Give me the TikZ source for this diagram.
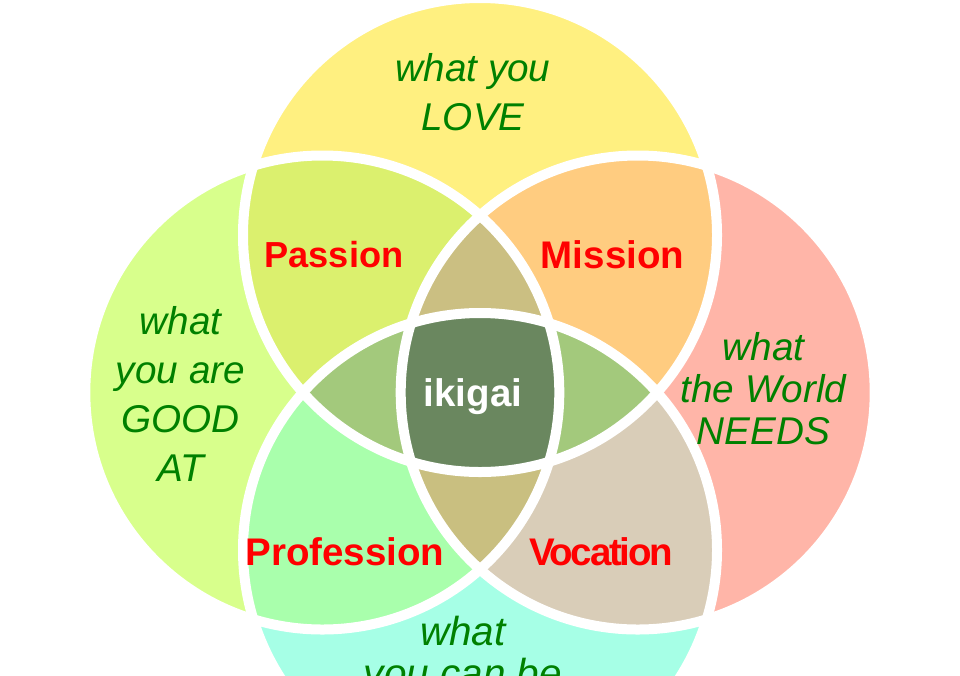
\documentclass[tikz,border=0pt]{standalone}
\usepackage{fontspec}
\setmainfont{Liberation Sans}
\definecolor{colLove}{HTML}{FFF080}
\definecolor{colGood}{HTML}{D8FF8C}
\definecolor{colNeeds}{HTML}{FFB5A8}
\definecolor{colPaid}{HTML}{A6FFE6}
\definecolor{colPassion}{HTML}{DBF06E}
\definecolor{colMission}{HTML}{FFCC80}
\definecolor{colProfession}{HTML}{A9FFAC}
\definecolor{colVocation}{HTML}{D9CDB8}
\definecolor{colUpper}{HTML}{CBBF82}
\definecolor{colLower}{HTML}{C9BF80}
\definecolor{colSide}{HTML}{A3C97C}
\definecolor{colCentre}{HTML}{6A875F}
\definecolor{colWant}{HTML}{008000}
\tikzset{
	want/.style={text=colWant, inner sep=0, align=center, font={\fontsize{38.7}{49}\selectfont\itshape}},
	wanttight/.style={want, font={\fontsize{38.7}{42}\selectfont\itshape}},
	overlap/.style={text=red, inner sep=0, font={\fontsize{38.5}{46}\selectfont\bfseries}},
	ring/.style={draw=white, line width=10pt},
}
\begin{document}
\begin{tikzpicture}[x=1pt, y=-1pt]
	\useasboundingbox (0, 0) rectangle (960, 675);
	\clip (0, 0) rectangle (960, 675);
	\def\rad{237pt}
	\coordinate (top) at (480, 235);
	\coordinate (lft) at (322.3, 392.5);
	\coordinate (rgt) at (637.7, 392.5);
	\coordinate (bot) at (480, 550);
	\foreach \a/\col in {top/colLove, lft/colGood, rgt/colNeeds, bot/colPaid}
		\fill[\col] (\a) circle (\rad);
	% overlaps, two circles first and then more of them on top
	\foreach \a/\b/\d/\col in {top/lft/lft/colPassion, top/rgt/rgt/colMission, bot/lft/lft/colProfession, bot/rgt/rgt/colVocation, top/lft/rgt/colUpper, bot/lft/rgt/colLower, top/bot/lft/colSide, top/bot/rgt/colSide}
		{
		\begin{scope}
			\clip (\a) circle (\rad);
			\clip (\b) circle (\rad);
			\clip (\d) circle (\rad);
			\fill[\col] (0, 0) rectangle (960, 675);
		\end{scope}
		}
	\begin{scope}
		\clip (top) circle (\rad);
		\clip (bot) circle (\rad);
		\clip (lft) circle (\rad);
		\clip (rgt) circle (\rad);
		\fill[colCentre] (0, 0) rectangle (960, 675);
	\end{scope}
	\foreach \a in {top, lft, rgt, bot}
		\draw[ring] (\a) circle (\rad);
	\node[want] (love) at (473, 92) {what you\\LOVE};
	\node[want] (good) at (180.5, 393.5) {what\\you are\\GOOD\\AT};
	\node[wanttight] (needs) at (763.5, 388.5) {what\\the World\\NEEDS};
	\node[wanttight, font={\fontsize{40.5}{42}\selectfont\itshape}] (paid) at (463, 656) {what\\you can be};
	\node[overlap, font={\fontsize{36.2}{46}\selectfont\bfseries}] (passion) at (334, 255) {Passion};
	\node[overlap] (mission) at (612.5, 254.5) {Mission};
	\node[overlap] (profession) at (345, 552) {Profession};
	\node[overlap, font={\fontsize{38.5}{46}\selectfont\bfseries\addfontfeatures{LetterSpace=-6}}] (vocation) at (601, 552) {Vocation};
	\node[overlap, text=white] (ikigai) at (473, 396.5) {ikigai};
\end{tikzpicture}
\end{document}
